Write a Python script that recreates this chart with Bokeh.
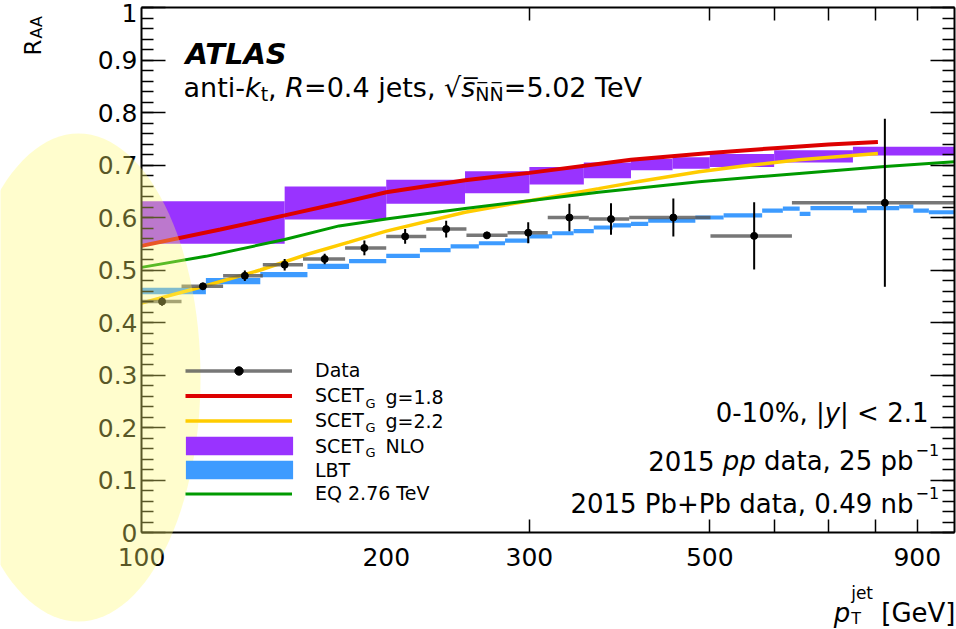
import math
from bokeh.plotting import figure
from bokeh.models import (FixedTicker, LogAxis, LinearAxis, Label, PolyAnnotation,
                          Legend, LegendItem, Range1d, NumeralTickFormatter)
from bokeh.embed import file_html
from bokeh.resources import INLINE

# ---------------- data ----------------
data_x = [106, 119, 134, 150, 168, 188, 211, 237, 266, 299, 336, 378, 451, 567, 821]
data_lo = [100, 112, 126, 141, 158, 178, 200, 224, 251, 282, 316, 355, 398, 501, 631]
data_hi = [112, 126, 141, 158, 178, 200, 224, 251, 282, 316, 355, 398, 501, 631, 1000]
data_raa = [0.440, 0.469, 0.489, 0.510, 0.521, 0.542, 0.564, 0.578, 0.566, 0.571,
            0.600, 0.597, 0.600, 0.565, 0.628]
data_err = [0.008, 0.006, 0.010, 0.011, 0.010, 0.014, 0.014, 0.016, 0.006, 0.020,
            0.026, 0.030, 0.036, 0.064, 0.160]

scet18_x = [100, 125, 150, 175, 200, 250, 300, 400, 500, 600, 700, 805]
scet18_y = [0.546, 0.577, 0.604, 0.627, 0.648, 0.671, 0.685, 0.710, 0.723, 0.732, 0.739, 0.744]

scet22_x = [100, 120, 140, 160, 180, 200, 250, 300, 365, 400, 485, 550, 644, 805]
scet22_y = [0.437, 0.470, 0.500, 0.530, 0.553, 0.574, 0.610, 0.632, 0.655, 0.666,
            0.687, 0.698, 0.710, 0.722]

eq_x = [100, 120, 150, 175, 200, 250, 300, 365, 485, 644, 821, 1000]
eq_y = [0.505, 0.526, 0.558, 0.584, 0.597, 0.617, 0.632, 0.648, 0.668, 0.684, 0.697, 0.706]

nlo_left = [100, 150, 200, 250, 300, 350, 400, 450, 500, 600, 750]
nlo_right = [150, 200, 250, 300, 350, 400, 450, 500, 600, 750, 1000]
nlo_top = [0.631, 0.659, 0.672, 0.688, 0.696, 0.705, 0.712, 0.715, 0.721, 0.728, 0.735]
nlo_bot = [0.550, 0.596, 0.626, 0.646, 0.663, 0.675, 0.690, 0.693, 0.696, 0.705, 0.718]

lbt_edges = [100, 120, 140, 160, 180, 200, 220, 240, 260, 280, 300, 320, 340, 360, 380,
             400, 420, 480, 520, 580, 615, 645, 665, 750, 780, 855, 890, 930, 1000]
lbt_val = [0.460, 0.479, 0.491, 0.507, 0.517, 0.527, 0.538, 0.545, 0.551, 0.556,
           0.564, 0.570, 0.574, 0.581, 0.585, 0.588, 0.594, 0.600, 0.604, 0.613,
           0.617, 0.607, 0.618, 0.613, 0.618, 0.621, 0.613, 0.610]
lbt_err = [0.006, 0.006, 0.005, 0.005, 0.004, 0.004, 0.004, 0.004, 0.004, 0.004,
           0.004, 0.004, 0.004, 0.004, 0.004, 0.004, 0.004, 0.004, 0.004, 0.004,
           0.004, 0.004, 0.004, 0.004, 0.004, 0.004, 0.004, 0.004]

x_tick_values = [100, 200, 300, 500, 900]
x_tick_labels = ["100", "200", "300", "500", "900"]
x_minor_ticks = [300, 500, 600, 700, 800, 900]
y_tick_values = [0, 0.1, 0.2, 0.3, 0.4, 0.5, 0.6, 0.7, 0.8, 0.9, 1]
y_tick_labels = ["0", "0.1", "0.2", "0.3", "0.4", "0.5", "0.6", "0.7", "0.8", "0.9", "1"]
y_minor_ticks = [round(0.02 * i, 2) for i in range(51)]

# ---------------- layout (pixel geometry of the reference) ----------------
FONT = "DejaVu Sans"
W_FIG, H_FIG = 956, 629
X0_PX, DEC_PX = 141, 813          # x=100 at px 141, one decade = 813 px
Y0_PX, UNIT_PX = 532, 525         # y=0 at px 532, one unit = 525 px


def rx(px):  # pixel -> data x
    return 10 ** (2 + (px - X0_PX) / DEC_PX)


def ry(py):  # pixel -> data y
    return (Y0_PX - py) / UNIT_PX


EM = {' ': .318, '%': .95, '+': .838, ',': .318, '-': .361, '.': .318, '/': .337,
      '<': .838, '=': .838, 'A': .684, 'B': .686, 'C': .698, 'D': .770, 'E': .632,
      'G': .775, 'L': .557, 'N': .748, 'O': .787, 'P': .603, 'Q': .787, 'R': .695,
      'S': .635, 'T': .611, 'V': .684, '[': .39, ']': .39, 'a': .613, 'b': .635,
      'd': .635, 'e': .615, 'g': .635, 'i': .278, 'j': .278, 'k': .579, 'n': .634,
      'p': .635, 's': .521, 't': .392, 'y': .592, '|': .337, '\u221a': .636,
      '\u0305': 0.0, '\u2212': .838}
for _d in "0123456789":
    EM[_d] = .636


def tw(s, size):
    return sum(EM.get(c, 0.6) for c in s) * size


p = figure(width=W_FIG, height=H_FIG, x_axis_type="log",
           x_range=Range1d(rx(0), rx(W_FIG)), y_range=Range1d(ry(H_FIG), ry(0)),
           output_backend="svg", toolbar_location=None,
           min_border_left=0, min_border_right=0, min_border_top=0, min_border_bottom=0,
           background_fill_color="white", border_fill_color="white")
p.xgrid.visible = False
p.ygrid.visible = False
p.outline_line_color = None
if p.title is not None:
    p.title.visible = False


def lab(text, x, y, size, xo=0.0, yo=0.0, style="normal", align="left",
        baseline="alphabetic", angle=0.0):
    p.add_layout(Label(x=x, y=y, text=text, x_offset=xo, y_offset=yo,
                       text_font=FONT, text_font_size=f"{size}px",
                       text_font_style=style, text_align=align,
                       text_baseline=baseline, angle=angle, text_color="black"))


def chain(segs, x, y, start=0.0):
    off = start
    for text, size, style, dy in segs:
        core = text.lstrip(" ")
        off += tw(text[:len(text) - len(core)], size)
        if core.strip():
            lab(core.rstrip(" "), x, y, size, xo=off, yo=dy, style=style)
        off += tw(core, size)


def chain_width(segs):
    return sum(tw(t, s) for t, s, _, _ in segs)


# ---------------- axes (fixed at the data-frame edges) ----------------
xax = p.xaxis[0]
xax.ticker = FixedTicker(ticks=x_tick_values, minor_ticks=x_minor_ticks)
xax.formatter = NumeralTickFormatter(format="0")
xax.major_label_overrides = {v: t for v, t in zip(x_tick_values, x_tick_labels)}
xax.fixed_location = 0
xax.bounds = (100, 1000)
xax.major_tick_line_color = None
xax.minor_tick_in = 13
xax.minor_tick_out = 0
xax.minor_tick_line_width = 1.5
xax.axis_line_width = 2
xax.major_label_standoff = 9
xax.major_label_text_font = FONT
xax.major_label_text_font_size = "25px"
xax.major_label_text_color = "black"

top_ax = LogAxis(ticker=FixedTicker(ticks=x_tick_values, minor_ticks=x_minor_ticks),
                 fixed_location=1, bounds=(100, 1000),
                 major_tick_line_color=None, minor_tick_in=13, minor_tick_out=0,
                 minor_tick_line_width=1.5, axis_line_width=2,
                 major_label_overrides={v: "" for v in x_tick_values})
p.add_layout(top_ax, "above")

yax = p.yaxis[0]
yax.ticker = FixedTicker(ticks=y_tick_values, minor_ticks=y_minor_ticks)
overrides = {v: t for v, t in zip(y_tick_values, y_tick_labels)}
overrides[1] = ""
yax.major_label_overrides = overrides
yax.fixed_location = 100
yax.bounds = (0, 1)
yax.major_tick_in = 24
yax.major_tick_out = 0
yax.minor_tick_in = 12
yax.minor_tick_out = 0
yax.major_tick_line_width = 1.5
yax.minor_tick_line_width = 1.5
yax.axis_line_width = 2
yax.major_label_standoff = 4
yax.major_label_text_font = FONT
yax.major_label_text_font_size = "25px"
yax.major_label_text_color = "black"

right_ax = LinearAxis(ticker=FixedTicker(ticks=y_tick_values, minor_ticks=y_minor_ticks),
                      fixed_location=1000, bounds=(0, 1),
                      major_tick_in=24, major_tick_out=0, minor_tick_in=12, minor_tick_out=0,
                      major_tick_line_width=1.5, minor_tick_line_width=1.5,
                      axis_line_width=2,
                      major_label_overrides={v: "" for v in y_tick_values})
p.add_layout(right_ax, "right")

# ---------------- glyphs ----------------
nlo_r = p.quad(left=nlo_left, right=nlo_right, bottom=nlo_bot, top=nlo_top,
               fill_color="#9933FF", line_color=None)
lbt_r = p.quad(left=lbt_edges[:-1], right=lbt_edges[1:],
               bottom=[v - e for v, e in zip(lbt_val, lbt_err)],
               top=[v + e for v, e in zip(lbt_val, lbt_err)],
               fill_color="#3D9BFF", line_color=None)
red_r = p.line(scet18_x, scet18_y, line_color="#DD0000", line_width=4)
yel_r = p.line(scet22_x, scet22_y, line_color="#FFCC00", line_width=3.5)
grn_r = p.line(eq_x, eq_y, line_color="#009A00", line_width=3)
xbar_r = p.segment(x0=data_lo, y0=data_raa, x1=data_hi, y1=data_raa,
                   line_color="#555555", line_width=3.5, line_alpha=0.8)
ebar_r = p.segment(x0=data_x, y0=[v - e for v, e in zip(data_raa, data_err)],
                   x1=data_x, y1=[v + e for v, e in zip(data_raa, data_err)],
                   line_color="black", line_width=2)
dot_r = p.scatter(data_x, data_raa, size=7, color="black")

# ---------------- legend ----------------
LEG_FS = 19
common = dict(padding=0, margin=0, border_line_color=None, background_fill_alpha=0,
              label_text_font=FONT, label_text_font_size=f"{LEG_FS}px",
              label_text_color="black")
leg1 = Legend(items=[LegendItem(label="Data", renderers=[xbar_r, dot_r]),
                     LegendItem(label="SCET", renderers=[red_r]),
                     LegendItem(label="SCET", renderers=[yel_r])],
              location=(185, 198), glyph_width=107, glyph_height=21, label_height=21,
              label_standoff=23, spacing=3, **common)
leg2 = Legend(items=[LegendItem(label="SCET", renderers=[nlo_r]),
                     LegendItem(label="LBT", renderers=[lbt_r])],
              location=(172, 148), glyph_width=134, glyph_height=23, label_height=23,
              label_standoff=9, spacing=1, **common)
leg3 = Legend(items=[LegendItem(label="EQ 2.76 TeV", renderers=[grn_r])],
              location=(185, 125), glyph_width=107, glyph_height=21, label_height=21,
              label_standoff=23, spacing=3, **common)
for lg in (leg1, leg2, leg3):
    p.add_layout(lg)

leg_text_px = 185 + 107 + 23
g_px = leg_text_px + tw("SCET", LEG_FS) + 1
for row_py, rest in ((396.5, "g=1.8"), (420.5, "g=2.2"), (445.5, "NLO")):
    lab("G", rx(g_px), ry(row_py + 6), 13, baseline="middle")
    lab(rest, rx(g_px + 20), ry(row_py), LEG_FS, baseline="middle")

# ---------------- texts ----------------
lab("ATLAS", rx(185), ry(53), 29, style="bold italic")

sub = [("anti-", 27, "normal", 0), ("k", 27, "italic", 0), ("t", 19, "normal", -6),
       (", ", 27, "normal", 0), ("R", 27, "italic", 0), ("=0.4 jets, ", 27, "normal", 0),
       ("\u221a", 27, "normal", 0), ("s\u0305", 27, "italic", 0),
       ("N\u0305N\u0305", 19, "normal", -6), ("=5.02 TeV", 27, "normal", 0)]
chain(sub, rx(183), ry(87))

a1 = [("0-10%, |", 26, "normal", 0), ("y", 26, "italic", 0), ("| < 2.1", 26, "normal", 0)]
chain(a1, rx(928), ry(412), start=-chain_width(a1))

a2 = [("2015 ", 26, "normal", 0), ("pp", 26, "italic", 0), (" data, 25 pb", 26, "normal", 0)]
chain(a2, rx(913), ry(460), start=-chain_width(a2))
lab("\u22121", rx(915), ry(449), 16)

a3 = [("2015 Pb+Pb data, 0.49 nb", 26, "normal", 0)]
chain(a3, rx(913), ry(503), start=-chain_width(a3))
lab("\u22121", rx(915), ry(492), 16)

# top tick label "1" (drawn just below the frame top, as in the reference)
lab(y_tick_labels[-1], rx(137), ry(12), 25, align="right", baseline="middle")

# y axis title R_AA (rotated)
lab("R", rx(32), ry(55), 23, angle=math.pi / 2)
lab("AA", rx(36), ry(55 - tw("R", 23) - 1), 16, angle=math.pi / 2)

# x axis title p_T^jet [GeV]
lab("[GeV]", rx(955), ry(612), 26, align="right")
gev_left = 955 - tw("[GeV]", 26) - tw(" ", 26)
jet_left = gev_left - tw("jet", 17)
lab("jet", rx(jet_left), ry(592), 17)
lab("T", rx(jet_left), ry(618), 16)
lab("p", rx(jet_left - 1), ry(612), 26, style="italic", align="right")

# ---------------- translucent yellow highlight ----------------
ell_cx, ell_cy, ell_a, ell_b = 78.0, 377.0, 122.0, 244.0
ell_xs, ell_ys = [], []
for i in range(120):
    t = 2 * math.pi * i / 120
    ell_xs.append(rx(ell_cx + ell_a * math.cos(t)))
    ell_ys.append(ry(ell_cy + ell_b * math.sin(t)))
p.add_layout(PolyAnnotation(xs=ell_xs, ys=ell_ys, fill_color="#FFF870", fill_alpha=0.35,
                            line_color=None, level="overlay"))

open("out.html", "w").write(file_html(p, INLINE))
